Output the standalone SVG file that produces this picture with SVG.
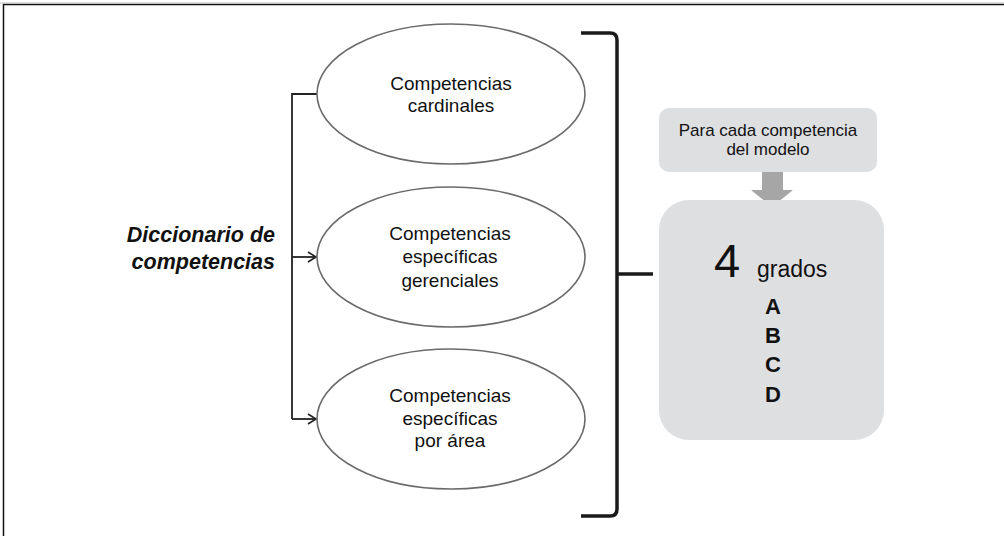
<svg xmlns="http://www.w3.org/2000/svg" width="1004" height="536" viewBox="0 0 1004 536">
<defs>
<style>
.t{font-family:"Liberation Sans",Arial,sans-serif;fill:#111}
.ell{fill:#fff;stroke:#6a6a6a;stroke-width:1.6}
.conn{fill:none;stroke:#222;stroke-width:1.8}
.box{fill:#dedfe1}
</style>
<marker id="arr" markerWidth="12" markerHeight="12" refX="10" refY="6" orient="auto" markerUnits="userSpaceOnUse">
<path d="M2,1 L10,6 L2,11" fill="none" stroke="#222" stroke-width="1.6"/>
</marker>
</defs>
<rect x="0" y="0" width="1004" height="536" fill="#fff"/>
<path d="M3.5,540 V4.5 H1010" fill="none" stroke="#111" stroke-width="1.5"/>
<path d="M0,3 H1004" stroke="#bbb" stroke-width="1"/>

<g id="title">
<text class="t" x="275" y="242" font-size="21.5" font-weight="bold" font-style="italic" text-anchor="end">Diccionario de</text>
<text class="t" x="275" y="269" font-size="21.5" font-weight="bold" font-style="italic" text-anchor="end">competencias</text>
</g>

<g id="connectors">
<path class="conn" d="M317,94 H292 V419"/>
<path class="conn" d="M292,257 H316" marker-end="url(#arr)"/>
<path class="conn" d="M292,419 H316" marker-end="url(#arr)"/>
<path d="M581,33 H610 Q617,33 617,40 V509 Q617,516 610,516 H581" fill="none" stroke="#1a1a1a" stroke-width="3.5"/>
<path d="M617,274 H653" fill="none" stroke="#1a1a1a" stroke-width="3.5"/>
<path d="M762,172 H783 V190 H793 L772,207 L751,190 H762 Z" fill="#a6a6a6"/>
</g>

<g id="node-cardinales">
<ellipse class="ell" cx="451" cy="94" rx="134" ry="70"/>
<text class="t" x="451" y="90" font-size="19" text-anchor="middle">Competencias</text>
<text class="t" x="451" y="112" font-size="19" text-anchor="middle">cardinales</text>
</g>

<g id="node-gerenciales">
<ellipse class="ell" cx="451" cy="257" rx="134" ry="70"/>
<text class="t" x="450" y="240" font-size="19" text-anchor="middle">Competencias</text>
<text class="t" x="450" y="263" font-size="19" text-anchor="middle">específicas</text>
<text class="t" x="450" y="287" font-size="19" text-anchor="middle">gerenciales</text>
</g>

<g id="node-area">
<ellipse class="ell" cx="451" cy="419" rx="134" ry="70"/>
<text class="t" x="450" y="402" font-size="19" text-anchor="middle">Competencias</text>
<text class="t" x="450" y="425" font-size="19" text-anchor="middle">específicas</text>
<text class="t" x="450" y="447" font-size="19" text-anchor="middle">por área</text>
</g>

<g id="node-para-cada">
<rect class="box" x="659" y="108" width="218" height="64" rx="10"/>
<text class="t" x="768" y="136" font-size="17" text-anchor="middle">Para cada competencia</text>
<text class="t" x="768" y="155" font-size="17" text-anchor="middle">del modelo</text>
</g>

<g id="node-grados">
<rect class="box" x="659" y="200" width="225" height="240" rx="30"/>
<text class="t" x="714" y="277" font-size="47">4</text>
<text class="t" x="757" y="277" font-size="23">grados</text>
<text class="t" x="773" y="314" font-size="22" font-weight="bold" text-anchor="middle">A</text>
<text class="t" x="773" y="343" font-size="22" font-weight="bold" text-anchor="middle">B</text>
<text class="t" x="773" y="372" font-size="22" font-weight="bold" text-anchor="middle">C</text>
<text class="t" x="773" y="402" font-size="22" font-weight="bold" text-anchor="middle">D</text>
</g>
</svg>
